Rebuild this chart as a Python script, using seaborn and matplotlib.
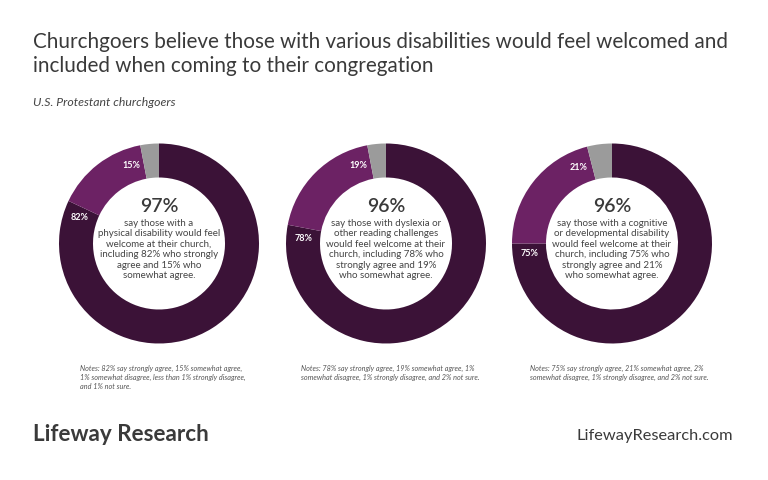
import matplotlib
matplotlib.use("Agg")
import matplotlib.pyplot as plt
import numpy as np
import seaborn as sns

sns.set_theme(style="white")
plt.rcParams['font.family'] = ['Lato', 'DejaVu Sans']

# data
groups = ["physical", "dyslexia", "cognitive"]
strongly_agree = [82, 78, 75]
somewhat_agree = [15, 19, 21]
totals = ["97%", "96%", "96%"]
center_texts = [
    "say those with a\nphysical disability would feel\nwelcome at their church,\nincluding 82% who strongly\nagree and 15% who\nsomewhat agree.",
    "say those with dyslexia or\nother reading challenges\nwould feel welcome at their\nchurch, including 78% who\nstrongly agree and 19%\nwho somewhat agree.",
    "say those with a cognitive\nor developmental disability\nwould feel welcome at their\nchurch, including 75% who\nstrongly agree and 21%\nwho somewhat agree.",
]
notes = [
    "Notes: 82% say strongly agree, 15% somewhat agree,\n1% somewhat disagree, less than 1% strongly disagree,\nand 1% not sure.",
    "Notes: 78% say strongly agree, 19% somewhat agree, 1%\nsomewhat disagree, 1% strongly disagree, and 2% not sure.",
    "Notes: 75% say strongly agree, 21% somewhat agree, 2%\nsomewhat disagree, 1% strongly disagree, and 2% not sure.",
]
title_lines = [
    "Churchgoers believe those with various disabilities would feel welcomed and",
    "included when coming to their congregation",
]

DARK = "#3b1237"
PURPLE = "#6c2264"
GREY = "#9b9b9b"
TEXT = "#3a3a3a"

W, H = 768, 480
fig = plt.figure(figsize=(W / 100, H / 100), dpi=100)
fig.patch.set_facecolor("white")

centers_x = [159, 386, 612]
center_y = 243.5
radius = 100
ring = 0.34

for i, g in enumerate(groups):
    cx = centers_x[i]
    ax = fig.add_axes([(cx - radius) / W, (H - center_y - radius) / H,
                       2 * radius / W, 2 * radius / H])
    sa, so = strongly_agree[i], somewhat_agree[i]
    rest = 100 - sa - so
    ax.pie([sa, so, rest], colors=[DARK, PURPLE, GREY], startangle=90,
           counterclock=False, radius=1,
           wedgeprops=dict(width=ring, edgecolor="none"))
    ax.set_xlim(-1, 1)
    ax.set_ylim(-1, 1)
    ax.set_aspect("equal")
    ax.axis("off")

    # segment labels near the end of each segment
    r_mid = 1 - ring / 2
    for frac, lab in [((sa - 2) / 100, f"{sa}%"), ((sa + so - 2.5) / 100, f"{so}%")]:
        ang = np.deg2rad(90 - 360 * frac)
        ax.text(r_mid * np.cos(ang), r_mid * np.sin(ang), lab, color="white",
                fontsize=6.5, fontweight="bold", ha="center", va="center")

    ax.text(0, 0.37, totals[i], fontsize=14, fontweight="semibold",
            color=TEXT, ha="center", va="center")
    ax.text(0, -0.06, center_texts[i], fontsize=7, color="#444444",
            ha="center", va="center", linespacing=1.2)

notes_x = [80, 301, 530]
for x, n in zip(notes_x, notes):
    fig.text(x / W, 1 - 365 / H, n, fontsize=5.2, style="italic",
             color="#555555", ha="left", va="top", linespacing=1.35)

for y, line in zip([48, 72], title_lines):
    fig.text(33 / W, 1 - y / H, line, fontsize=14.9, color=TEXT,
             ha="left", va="baseline")
fig.text(33 / W, 1 - 106 / H, "U.S. Protestant churchgoers", fontsize=8.8,
         style="italic", color="#444444", ha="left", va="baseline")

fig.text(33 / W, 1 - 441 / H, "Lifeway Research", fontsize=16.2,
         fontweight="bold", color=TEXT, ha="left", va="baseline")
fig.text(733 / W, 1 - 440 / H, "LifewayResearch.com", fontsize=11.8,
         color=TEXT, ha="right", va="baseline")

fig.savefig("out.png", dpi=100, facecolor="white")
